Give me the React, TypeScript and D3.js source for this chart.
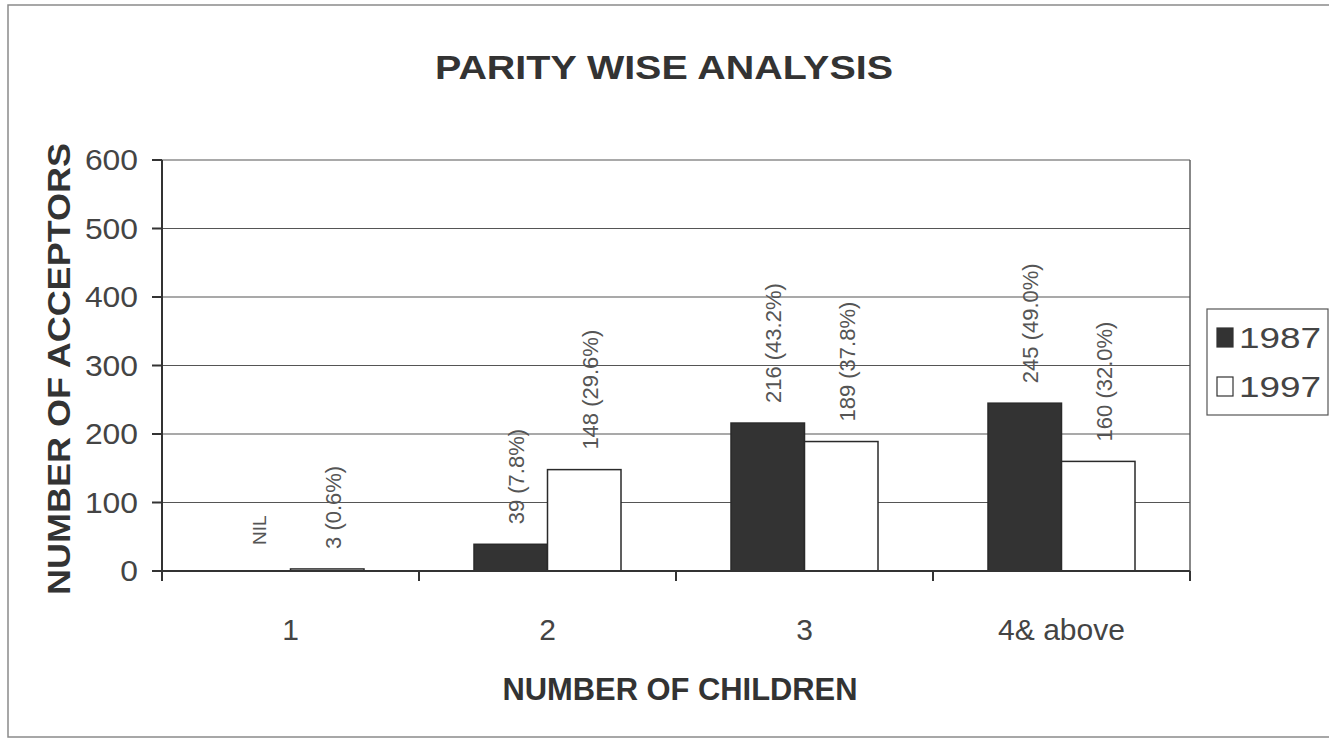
import React from "react";
import * as d3 from "d3";

// Parity-wise acceptors, grouped by number of children
const categories = ["1", "2", "3", "4& above"];
const seriesNames = ["1987", "1997"];
const values1987 = [0, 39, 216, 245];
const values1997 = [3, 148, 189, 160];
const labels1987 = ["NIL", "39 (7.8%)", "216 (43.2%)", "245 (49.0%)"];
const labels1997 = ["3 (0.6%)", "148 (29.6%)", "189 (37.8%)", "160 (32.0%)"];
const yTicks = [0, 100, 200, 300, 400, 500, 600];
const seriesFill = ["#333333", "#ffffff"];

const W = 1329;
const H = 739;
const plot = { left: 162, right: 1190, top: 160, bottom: 571 };
const FONT = "'Liberation Sans', Arial, Helvetica, sans-serif";

export default function App() {
  const x = d3
    .scaleBand<string>()
    .domain(categories)
    .range([plot.left, plot.right])
    .padding(0);
  const bw = x.bandwidth();
  const groupPad = bw * 0.214;
  const xs = d3
    .scaleBand<string>()
    .domain(seriesNames)
    .range([groupPad, bw - groupPad])
    .padding(0);
  const y = d3.scaleLinear().domain([0, 600]).range([plot.bottom, plot.top]);

  const series = [
    { name: seriesNames[0], values: values1987, labels: labels1987, fill: seriesFill[0] },
    { name: seriesNames[1], values: values1997, labels: labels1997, fill: seriesFill[1] },
  ];

  const boundaries = [...categories.map((c) => x(c) as number), plot.right];

  return (
    <div style={{ position: "fixed", left: 0, top: 0 }}>
      <svg width={W} height={H} style={{ display: "block", background: "#fff" }}>
        {/* chart frame */}
        <rect x={8} y={5} width={W + 10} height={732} fill="#fff" stroke="#8a8a8a" strokeWidth={1.5} />

        {/* title */}
        <text
          x={664}
          y={79}
          textAnchor="middle"
          fontFamily={FONT}
          fontWeight="bold"
          fontSize={34}
          fill="#333"
          textLength={458}
          lengthAdjust="spacingAndGlyphs"
        >
          PARITY WISE ANALYSIS
        </text>

        {/* gridlines */}
        {yTicks.slice(1).map((t) => (
          <line
            key={"g" + t}
            x1={plot.left}
            x2={plot.right}
            y1={y(t)}
            y2={y(t)}
            stroke="#555"
            strokeWidth={1.2}
          />
        ))}
        {/* right edge of plot area */}
        <line x1={plot.right} x2={plot.right} y1={plot.top} y2={plot.bottom} stroke="#555" strokeWidth={1.4} />

        {/* bars */}
        {series.map((s) =>
          categories.map((c, i) => {
            const bx = (x(c) as number) + (xs(s.name) as number);
            const v = s.values[i];
            if (v <= 0) return null;
            return (
              <rect
                key={s.name + c}
                x={bx}
                y={y(v)}
                width={xs.bandwidth()}
                height={y(0) - y(v)}
                fill={s.fill}
                stroke="#2a2a2a"
                strokeWidth={1.5}
              />
            );
          })
        )}

        {/* value labels */}
        {series.map((s) =>
          categories.map((c, i) => {
            const cx = (x(c) as number) + (xs(s.name) as number) + xs.bandwidth() / 2;
            const isNil = s.labels[i] === "NIL";
            const ty = y(s.values[i]) - (isNil ? 26 : 20);
            return (
              <text
                key={"l" + s.name + c}
                transform={`translate(${cx + 6},${ty}) rotate(-90)`}
                dy="0.35em"
                fontFamily={FONT}
                fontSize={isNil ? 19 : 22}
                fill="#555"
                textAnchor="start"
              >
                {s.labels[i]}
              </text>
            );
          })
        )}

        {/* y axis */}
        <line x1={plot.left} x2={plot.left} y1={plot.top} y2={plot.bottom + 8} stroke="#333" strokeWidth={2} />
        {yTicks.map((t) => (
          <g key={"yt" + t}>
            <line x1={plot.left - 10} x2={plot.left} y1={y(t)} y2={y(t)} stroke="#333" strokeWidth={2} />
            <text
              x={138}
              y={y(t)}
              dy="0.36em"
              textAnchor="end"
              fontFamily={FONT}
              fontSize={29}
              fill="#444"
              textLength={String(t).length * 17.7}
              lengthAdjust="spacingAndGlyphs"
            >
              {t}
            </text>
          </g>
        ))}

        {/* x axis */}
        <line x1={plot.left - 10} x2={plot.right} y1={plot.bottom} y2={plot.bottom} stroke="#333" strokeWidth={2.2} />
        {boundaries.map((bx, i) => (
          <line key={"xt" + i} x1={bx} x2={bx} y1={plot.bottom} y2={plot.bottom + 10} stroke="#333" strokeWidth={2} />
        ))}
        {categories.map((c) => (
          <text
            key={"xl" + c}
            x={(x(c) as number) + bw / 2}
            y={640}
            textAnchor="middle"
            fontFamily={FONT}
            fontSize={30}
            fill="#444"
          >
            {c}
          </text>
        ))}

        {/* axis titles */}
        <text
          x={680}
          y={700}
          textAnchor="middle"
          fontFamily={FONT}
          fontWeight="bold"
          fontSize={31}
          fill="#333"
          textLength={355}
          lengthAdjust="spacingAndGlyphs"
        >
          NUMBER OF CHILDREN
        </text>
        <text
          transform={`translate(70,369) rotate(-90)`}
          textAnchor="middle"
          fontFamily={FONT}
          fontWeight="bold"
          fontSize={31}
          fill="#333"
          textLength={452}
          lengthAdjust="spacingAndGlyphs"
        >
          NUMBER OF ACCEPTORS
        </text>

        {/* legend */}
        <rect x={1207} y={309} width={121} height={106} fill="#fff" stroke="#555" strokeWidth={1.2} />
        {series.map((s, i) => {
          const ly = 338 + i * 49;
          return (
            <g key={"lg" + s.name}>
              <rect x={1217} y={ly - 10} width={16} height={19} fill={s.fill} stroke="#333" strokeWidth={1.2} />
              <text
                x={1239}
                y={ly + 10}
                fontFamily={FONT}
                fontSize={29}
                fill="#444"
                textLength={82}
                lengthAdjust="spacingAndGlyphs"
              >
                {s.name}
              </text>
            </g>
          );
        })}
      </svg>
    </div>
  );
}
